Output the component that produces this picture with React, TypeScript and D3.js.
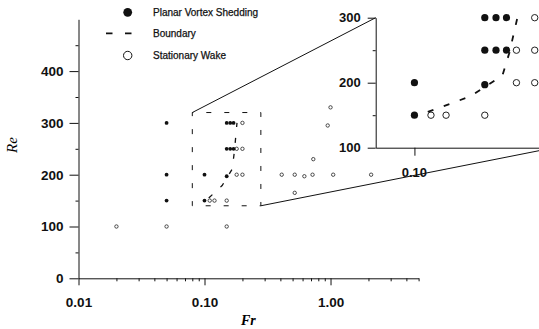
import React, { useEffect, useRef } from 'react'
import * as d3 from 'd3'

// Planar vortex shedding (filled)
const planarFr = [0.05, 0.05, 0.05, 0.1, 0.1, 0.15, 0.15, 0.16, 0.17, 0.15, 0.16, 0.17]
const planarRe = [150, 200, 300, 150, 200, 197, 250, 250, 250, 300, 300, 300]

// Stationary wake (open)
const wakeFr = [0.02, 0.05, 0.15, 0.11, 0.12, 0.15, 0.18, 0.2, 0.18, 0.2, 0.2, 0.41, 0.52, 0.62, 0.72, 1.05, 2.1, 0.73, 0.95, 1.0, 0.52]
const wakeRe = [100, 100, 100, 150, 150, 150, 200, 200, 250, 250, 300, 200, 200, 197, 200, 200, 200, 230, 295, 330, 165]

// Boundary between regimes
const boundaryFr = [0.108, 0.138, 0.166, 0.173, 0.181]
const boundaryRe = [155, 179, 211, 247, 300]

// Main axes
const frDomain = [0.01, 5]
const reDomain = [0, 500]
const frMajor = [0.01, 0.1, 1]
const frMinor = [0.02, 0.03, 0.04, 0.05, 0.06, 0.07, 0.08, 0.09, 0.2, 0.3, 0.4, 0.5, 0.6, 0.7, 0.8, 0.9, 2, 3, 4, 5]
const reMajor = [0, 100, 200, 300, 400]
const reMinor = [50, 150, 250, 350, 450]

// Zoomed region (inset)
const zoomFr = [0.08, 0.28]
const zoomRe = [140, 320]
const insetFrDomain = [0.08, 0.205]
const insetReDomain = [100, 300]
const insetFrTicks = [0.1]
const insetReMajor = [100, 200, 300]
const insetReMinor = [150, 250]

const legendItems = ['Planar Vortex Shedding', 'Boundary', 'Stationary Wake']

const W = 539
const H = 329

export default function App() {
  const svgRef = useRef<SVGSVGElement>(null)

  useEffect(() => {
    const svg = d3.select(svgRef.current)
    svg.selectAll('*').remove()

    const tickFont = '"Liberation Sans", Arial, sans-serif'

    const x = d3.scaleLog().domain(frDomain).range([78.5, 418.6])
    const y = d3.scaleLinear().domain(reDomain).range([278.3, 19.3])
    const xi = d3.scaleLog().domain(insetFrDomain).range([375.7, 539])
    const yi = d3.scaleLinear().domain(insetReDomain).range([147.7, 17.7])

    const planar = planarFr.map((f, i) => ({ fr: f, re: planarRe[i] }))
    const wake = wakeFr.map((f, i) => ({ fr: f, re: wakeRe[i] }))
    const boundary = boundaryFr.map((f, i) => ({ fr: f, re: boundaryRe[i] }))

    const styleAxis = (g, size) => {
      g.selectAll('path').attr('stroke', '#111').attr('stroke-width', 1)
      g.selectAll('line').attr('stroke', '#111').attr('stroke-width', 1)
      g.selectAll('text')
        .attr('fill', '#111')
        .style('font-family', tickFont)
        .style('font-weight', 'bold')
        .style('font-size', size + 'px')
    }

    // main x axis
    const gx = svg.append('g').attr('transform', `translate(0,${y(0)})`)
    gx.call(d3.axisBottom(x).tickValues(frMajor).tickSize(7).tickSizeOuter(0).tickPadding(12)
      .tickFormat(d3.format('.2f')))
    styleAxis(gx, 13.5)
    const gxm = svg.append('g').attr('transform', `translate(0,${y(0)})`)
    gxm.call(d3.axisBottom(x).tickValues(frMinor).tickSize(3).tickFormat(() => ''))
    gxm.select('.domain').remove()
    styleAxis(gxm, 10)

    // main y axis
    const gy = svg.append('g').attr('transform', `translate(${x(0.01)},0)`)
    gy.call(d3.axisLeft(y).tickValues(reMajor).tickSize(9).tickSizeOuter(0).tickPadding(6))
    styleAxis(gy, 13.5)
    const gym = svg.append('g').attr('transform', `translate(${x(0.01)},0)`)
    gym.call(d3.axisLeft(y).tickValues(reMinor).tickSize(3).tickFormat(() => ''))
    gym.select('.domain').remove()
    styleAxis(gym, 10)

    // axis titles
    svg.append('text')
      .attr('transform', 'translate(17,145) rotate(-90)')
      .attr('text-anchor', 'middle')
      .style('font-family', '"Liberation Serif", "Times New Roman", serif')
      .style('font-style', 'italic')
      .style('font-size', '15px')
      .text('Re')
    svg.append('text')
      .attr('x', 241)
      .attr('y', 325)
      .style('font-family', '"Liberation Serif", "Times New Roman", serif')
      .style('font-style', 'italic')
      .style('font-weight', 'bold')
      .style('font-size', '14px')
      .text('Fr')

    // main data
    svg.append('g').selectAll('circle')
      .data(wake)
      .enter().append('circle')
      .attr('cx', d => x(d.fr))
      .attr('cy', d => y(d.re))
      .attr('r', 1.7)
      .attr('fill', 'white')
      .attr('stroke', '#222')
      .attr('stroke-width', 0.8)
    svg.append('g').selectAll('circle')
      .data(planar)
      .enter().append('circle')
      .attr('cx', d => x(d.fr))
      .attr('cy', d => y(d.re))
      .attr('r', 1.9)
      .attr('fill', '#111')

    svg.append('path')
      .datum(boundary)
      .attr('d', d3.line().x(d => x(d.fr)).y(d => y(d.re)))
      .attr('fill', 'none')
      .attr('stroke', '#111')
      .attr('stroke-width', 1.3)
      .attr('stroke-dasharray', '5 11')

    // zoom rectangle and connector lines
    svg.append('rect')
      .attr('x', x(zoomFr[0]))
      .attr('y', y(zoomRe[1]))
      .attr('width', x(zoomFr[1]) - x(zoomFr[0]))
      .attr('height', y(zoomRe[0]) - y(zoomRe[1]))
      .attr('fill', 'none')
      .attr('stroke', '#111')
      .attr('stroke-width', 1)
      .attr('stroke-dasharray', '5 13')
      .attr('stroke-dashoffset', -14)
    svg.append('line')
      .attr('x1', x(zoomFr[0])).attr('y1', y(zoomRe[1]))
      .attr('x2', xi(insetFrDomain[0])).attr('y2', yi(insetReDomain[1]))
      .attr('stroke', '#111').attr('stroke-width', 1)
    svg.append('line')
      .attr('x1', x(zoomFr[1])).attr('y1', y(zoomRe[0]))
      .attr('x2', xi(insetFrDomain[1])).attr('y2', yi(insetReDomain[0]) + 3)
      .attr('stroke', '#111').attr('stroke-width', 1)

    // inset axes
    const gix = svg.append('g').attr('transform', `translate(0,${yi(100)})`)
    gix.call(d3.axisBottom(xi).tickValues(insetFrTicks).tickSize(8).tickSizeOuter(0).tickPadding(12)
      .tickFormat(d3.format('.2f')))
    styleAxis(gix, 13)
    gix.selectAll('text').attr('fill', 'none')
    // label sits on top of the connector line
    svg.append('text')
      .attr('x', xi(0.1))
      .attr('y', 177)
      .attr('text-anchor', 'middle')
      .style('font-family', tickFont)
      .style('font-weight', 'bold')
      .style('font-size', '13px')
      .attr('fill', '#111')
      .text('0.10')

    const giy = svg.append('g').attr('transform', `translate(${xi(insetFrDomain[0])},0)`)
    giy.call(d3.axisLeft(yi).tickValues(insetReMajor).tickSize(8).tickSizeOuter(0).tickPadding(7))
    styleAxis(giy, 13)
    const giym = svg.append('g').attr('transform', `translate(${xi(insetFrDomain[0])},0)`)
    giym.call(d3.axisLeft(yi).tickValues(insetReMinor).tickSize(3).tickFormat(() => ''))
    giym.select('.domain').remove()
    styleAxis(giym, 10)

    const inInset = d => d.fr >= insetFrDomain[0] && d.fr <= insetFrDomain[1] && d.re > insetReDomain[0] && d.re <= insetReDomain[1]

    svg.append('path')
      .datum(boundary)
      .attr('d', d3.line().x(d => xi(d.fr)).y(d => yi(d.re)))
      .attr('fill', 'none')
      .attr('stroke', '#111')
      .attr('stroke-width', 1.8)
      .attr('stroke-dasharray', '6 11')

    svg.append('g').selectAll('circle')
      .data(wake.filter(inInset))
      .enter().append('circle')
      .attr('cx', d => xi(d.fr))
      .attr('cy', d => yi(d.re))
      .attr('r', 3.2)
      .attr('fill', 'white')
      .attr('stroke', '#222')
      .attr('stroke-width', 1)
    svg.append('g').selectAll('circle')
      .data(planar.filter(inInset))
      .enter().append('circle')
      .attr('cx', d => xi(d.fr))
      .attr('cy', d => yi(d.re))
      .attr('r', 3.6)
      .attr('fill', '#111')

    // legend
    const legend = svg.append('g').attr('class', 'legend')
    const ly = [12.3, 33.3, 55.5]
    legend.append('circle').attr('cx', 127.7).attr('cy', ly[0]).attr('r', 4.4).attr('fill', '#111')
    legend.append('line')
      .attr('x1', 106).attr('x2', 132).attr('y1', ly[1]).attr('y2', ly[1])
      .attr('stroke', '#111').attr('stroke-width', 1.8).attr('stroke-dasharray', '6.5 12.5')
    legend.append('circle').attr('cx', 127.7).attr('cy', ly[2]).attr('r', 4.2)
      .attr('fill', 'white').attr('stroke', '#111').attr('stroke-width', 1)
    legend.selectAll('text.item')
      .data(legendItems)
      .enter().append('text')
      .attr('class', 'item')
      .attr('x', 153)
      .attr('y', (d, i) => ly[i])
      .attr('dy', '0.35em')
      .style('font-family', tickFont)
      .style('font-size', '10px')
      .attr('fill', '#111')
      .attr('stroke', '#111')
      .attr('stroke-width', 0.25)
      .text(d => d)
  }, [])

  return (
    <div style={{ position: 'fixed', left: 0, top: 0 }}>
      <svg ref={svgRef} width={W} height={H} style={{ display: 'block', background: 'white' }} />
    </div>
  )
}
